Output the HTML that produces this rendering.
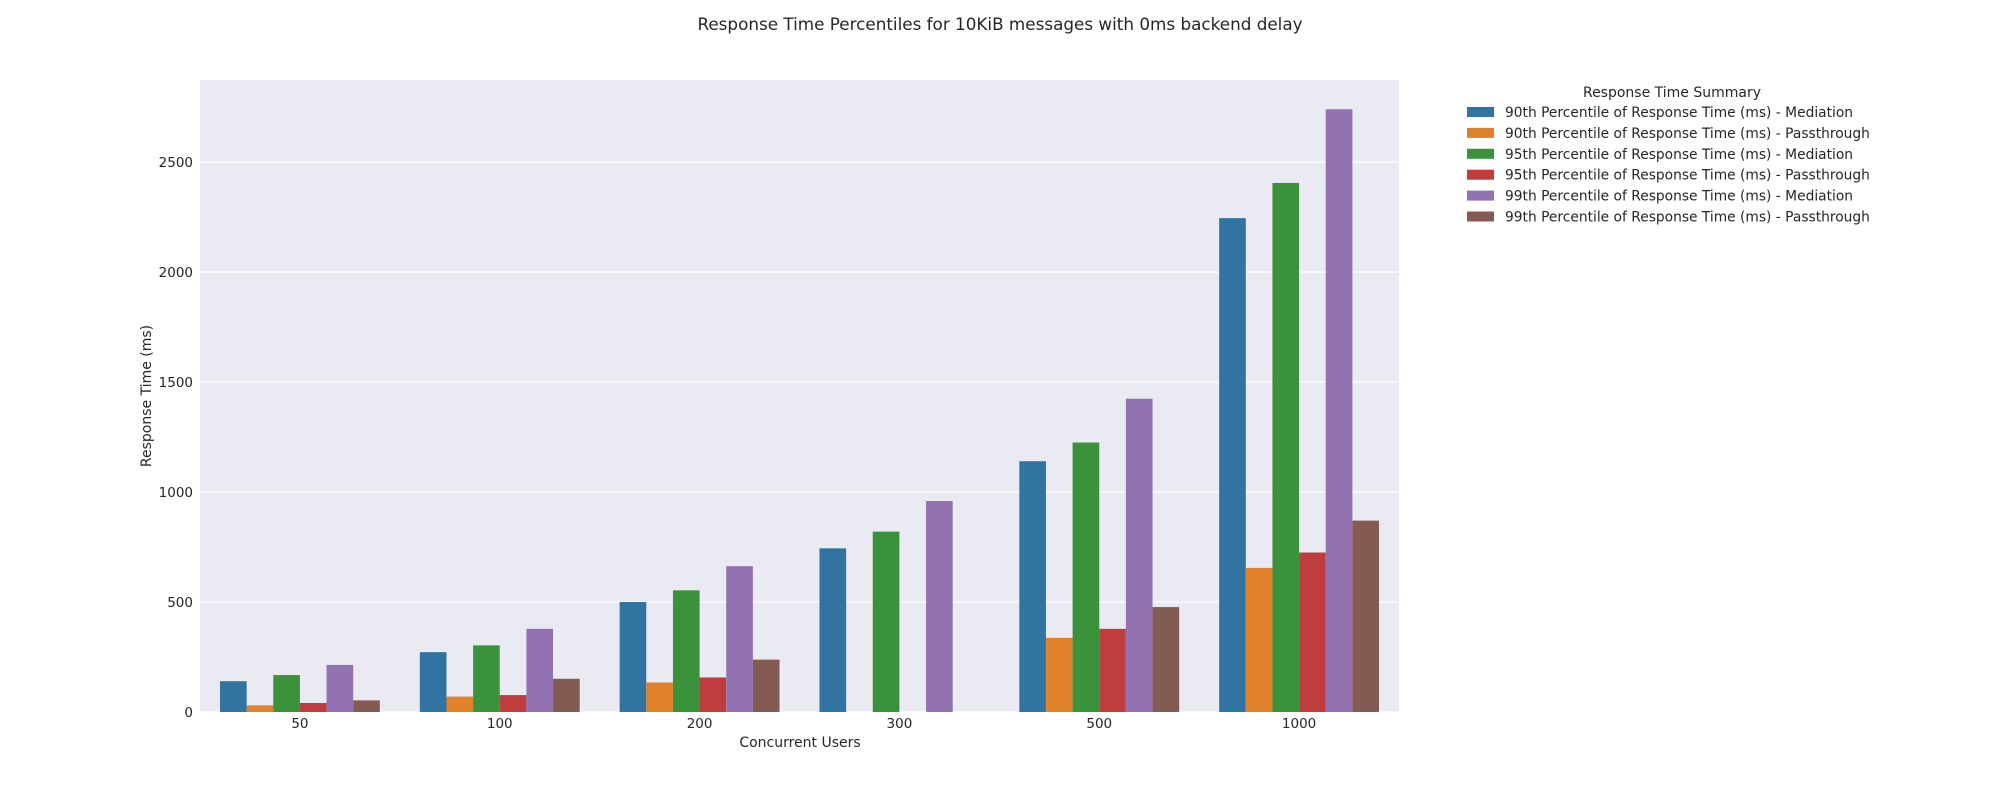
<!DOCTYPE html>
<html><head><meta charset="utf-8"><style>
html,body{margin:0;padding:0;background:#fff;}
svg{display:block;font-family:"DejaVu Sans","Liberation Sans",sans-serif;}
</style></head><body>
<svg id="chart" width="2000" height="800">
<text x="1000" y="30" text-anchor="middle" font-size="16.8" fill="#262626">Response Time Percentiles for 10KiB messages with 0ms backend delay</text>
<rect x="200" y="80" width="1199" height="632" fill="#eaeaf2"/>
<g id="grid"></g><g id="bars"></g><g id="ticks"></g>
<text x="800" y="747" text-anchor="middle" font-size="14" fill="#262626">Concurrent Users</text>
<text transform="translate(151,396) rotate(-90)" text-anchor="middle" font-size="14" fill="#262626">Response Time (ms)</text>
<g id="legend">
<text x="1672" y="97" text-anchor="middle" font-size="14" fill="#262626">Response Time Summary</text>
</g>
</svg>
<script>
const categories = ["50","100","200","300","500","1000"];
const seriesNames = ["90th Percentile of Response Time (ms) - Mediation","90th Percentile of Response Time (ms) - Passthrough","95th Percentile of Response Time (ms) - Mediation","95th Percentile of Response Time (ms) - Passthrough","99th Percentile of Response Time (ms) - Mediation","99th Percentile of Response Time (ms) - Passthrough"];
const s90Med = [140, 272, 500, 744, 1140, 2245];
const s90Pass = [30, 70, 134, 0, 337, 655];
const s95Med = [168, 303, 553, 820, 1225, 2405];
const s95Pass = [41, 77, 157, 0, 378, 725];
const s99Med = [214, 378, 663, 959, 1424, 2740];
const s99Pass = [53, 151, 238, 0, 477, 870];
const yTicks = [0, 500, 1000, 1500, 2000, 2500];
const colors = ["#3274a1","#e1812c","#3a923a","#c03d3e","#9372b2","#845b53"];
const series = [s90Med, s90Pass, s95Med, s95Pass, s99Med, s99Pass];
const NS = "http://www.w3.org/2000/svg";
const L = 200, R = 1399, T = 80, B = 712, YMAX = 2873;
const y = v => B - v / YMAX * (B - T);
const bw = (R - L) / categories.length;
const x = i => L + bw * i;
function mk(tag, attrs, parent) { const e = document.createElementNS(NS, tag); for (const k in attrs) e.setAttribute(k, attrs[k]); document.getElementById(parent).appendChild(e); return e; }
yTicks.forEach(t => {
  const g = mk("line", {x1: L, x2: R, y1: y(t), y2: y(t), stroke: "#fff", "stroke-width": 1.3}, "grid");
  
  
  const tx = mk("text", {x: 193, y: y(t) + 5, "text-anchor": "end", "font-size": 13.5, fill: "#262626"}, "ticks");
  tx.textContent = t;
  
  
});
const barW = bw * 0.8 / series.length;
categories.forEach((c, i) => {
  series.forEach((s, j) => {
    const v = s[i];
    const r = mk("rect", {x: x(i) + bw * 0.1 + j * barW, y: y(v), width: barW, height: B - y(v), fill: colors[j]}, "bars");
    
    
  });
  const tx = mk("text", {x: x(i) + bw / 2, y: 728, "text-anchor": "middle", "font-size": 13.5, fill: "#262626"}, "ticks");
  tx.textContent = c;
  
  
});
seriesNames.forEach((n, j) => {
  const yy = 112 + j * 20.9;
  const r = mk("rect", {x: 1467, y: yy - 5, width: 27, height: 10, fill: colors[j]}, "legend");
  
  
  const t = mk("text", {x: 1505, y: yy + 5, "font-size": 13.8, fill: "#262626"}, "legend");
  t.textContent = n;
  
  
});
</script>
</body></html>
